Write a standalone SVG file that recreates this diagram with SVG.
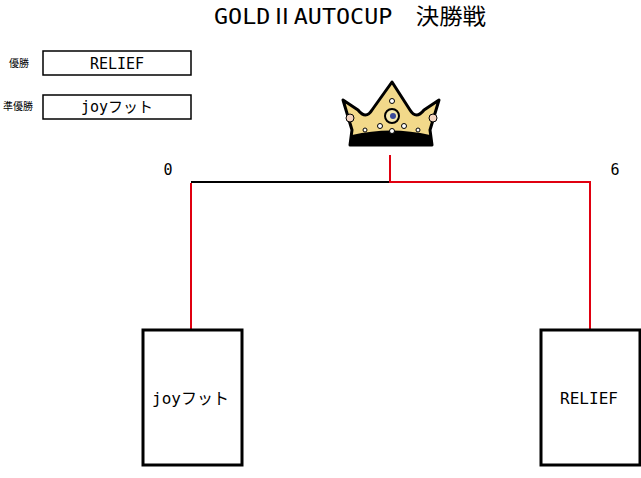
<svg xmlns="http://www.w3.org/2000/svg" width="641" height="478" viewBox="0 0 641 478">
<style>
.t{font-family:"DejaVu Sans Mono","Liberation Mono","Noto Sans CJK JP",monospace;fill:#000}
.box{fill:#fff;stroke:#000;stroke-width:1.5}
.team{fill:#fff;stroke:#000;stroke-width:3}
.red{stroke:#e00010;stroke-width:2;fill:none}
.blk{stroke:#000;stroke-width:2;fill:none}
</style>
<rect width="641" height="478" fill="#fff"/>
<text class="t" x="350" y="24" font-size="22" text-anchor="middle" textLength="272" lengthAdjust="spacingAndGlyphs">GOLDⅡAUTOCUP　決勝戦</text>
<g id="winner">
<text class="t" x="19" y="67" font-size="10" text-anchor="middle">優勝</text>
<rect class="box" x="43" y="51" width="148" height="24"/>
<text class="t" x="117" y="69" font-size="15" text-anchor="middle">RELIEF</text>
</g>
<g id="runnerup">
<text class="t" x="18" y="110" font-size="10" text-anchor="middle">準優勝</text>
<rect class="box" x="43" y="95" width="148" height="24"/>
<text class="t" x="117" y="112" font-size="15" text-anchor="middle">joyフット</text>
</g>
<g id="crown">
<path d="M343 100 L358 110 Q366 120 372 110 L392 82 L410 110 Q416 120 424 110 L439 100 L430 130 L432 145 L350 145 L352 130 Z" fill="#f2d98a" stroke="#000" stroke-width="3" stroke-linejoin="round"/>
<path d="M352 135 Q391 126 430 135 L432 145 L350 145 Z" fill="#000"/>
<circle cx="392" cy="116" r="7" fill="#f5e9b0" stroke="#000" stroke-width="2"/>
<circle cx="393" cy="116" r="3" fill="#3a4a9a"/>
<circle cx="350" cy="118" r="4" fill="#f4d4c0" stroke="#000"/>
<circle cx="433" cy="118" r="4" fill="#f4d4c0" stroke="#000"/>
<circle cx="392" cy="101" r="2.5" fill="#fff" stroke="#000"/>
<circle cx="392" cy="131" r="2.5" fill="#fff" stroke="#000"/>
<circle cx="380" cy="126" r="2.5" fill="#fff" stroke="#000"/>
<circle cx="404" cy="126" r="2.5" fill="#fff" stroke="#000"/>
<circle cx="365" cy="130" r="2" fill="#fff" stroke="#000"/>
<circle cx="418" cy="130" r="2" fill="#fff" stroke="#000"/>
</g>
<g id="connectors">
<path class="blk" d="M191 182 H390"/>
<path class="red" d="M390 155 V182 H590 V329"/>
<path class="red" d="M191 183 V329"/>
</g>
<g id="scores">
<text class="t" x="168" y="175" font-size="15" text-anchor="middle">0</text>
<text class="t" x="615" y="175" font-size="15" text-anchor="middle">6</text>
</g>
<g id="team-left">
<rect class="team" x="143" y="330" width="99" height="135"/>
<text class="t" x="152" y="404" font-size="16">joyフット</text>
</g>
<g id="team-right">
<rect class="team" x="541" y="330" width="99" height="135"/>
<text class="t" x="589" y="404" font-size="16" text-anchor="middle">RELIEF</text>
</g>
</svg>
